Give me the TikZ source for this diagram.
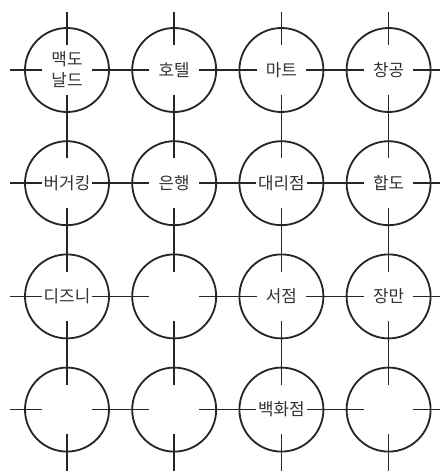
\documentclass[tikz,border=0pt]{standalone}
\usepackage{fontspec}
\newfontfamily\krfont{Noto Sans CJK KR}
\usetikzlibrary{positioning, calc}

\begin{document}
\begin{tikzpicture}[
    site/.style={circle, draw=black!85, line width=1.3pt,
                 minimum size=2.1cm, inner sep=0pt, outer sep=0pt},
    tag/.style={fill=white, inner sep=1.5pt, text=black!80, align=center,
                font=\krfont\fontsize{12}{15}\selectfont},
    link/.style={line width=1.2pt, black!85, shorten <=0.62cm, shorten >=0.62cm},
    stub/.style={line width=1.2pt, black!85, shorten >=0.62cm},
    node distance=0.73cm and 0.58cm
]
\useasboundingbox (0,0) rectangle (11,-11.775);

% sites
\node[site] (c11) at (1.675,-1.75) {};
\node[site, right=of c11] (c12) {};
\node[site, right=of c12] (c13) {};
\node[site, right=of c13] (c14) {};
\node[site, below=of c11] (c21) {};
\node[site, right=of c21] (c22) {};
\node[site, right=of c22] (c23) {};
\node[site, right=of c23] (c24) {};
\node[site, below=of c21] (c31) {};
\node[site, right=of c31] (c32) {};
\node[site, right=of c32] (c33) {};
\node[site, right=of c33] (c34) {};
\node[site, below=of c31] (c41) {};
\node[site, right=of c41] (c42) {};
\node[site, right=of c42] (c43) {};
\node[site, right=of c43] (c44) {};

% free ends of the grid lines
\coordinate[left=1.43cm of c11.center] (w1);
\coordinate[left=1.43cm of c21.center] (w2);
\coordinate[left=1.43cm of c31.center] (w3);
\coordinate[left=1.43cm of c41.center] (w4);
\coordinate[right=1.5cm of c14.center] (e1);
\coordinate[right=1.5cm of c24.center] (e2);
\coordinate[right=1.5cm of c34.center] (e3);
\coordinate[right=1.5cm of c44.center] (e4);
\coordinate[above=1.45cm of c11.center] (n1);
\coordinate[above=1.45cm of c12.center] (n2);
\coordinate[above=1.45cm of c13.center] (n3);
\coordinate[above=1.45cm of c14.center] (n4);
\coordinate[below=1.6cm of c41.center] (s1);
\coordinate[below=1.6cm of c42.center] (s2);
\coordinate[below=1.6cm of c43.center] (s3);
\coordinate[below=1.6cm of c44.center] (s4);

% rows
\draw[stub] (w1) -- (c11.center);
\draw[stub] (w2) -- (c21.center);
\draw[stub] (w3) -- (c31.center);
\draw[stub] (w4) -- (c41.center);
\draw[stub] (e1) -- (c14.center);
\draw[stub] (e2) -- (c24.center);
\draw[stub] (e3) -- (c34.center);
\draw[stub] (e4) -- (c44.center);
\draw[link] (c11.center) -- (c12.center);
\draw[link] (c12.center) -- (c13.center);
\draw[link] (c13.center) -- (c14.center);
\draw[link] (c21.center) -- (c22.center);
\draw[link] (c22.center) -- (c23.center);
\draw[link] (c23.center) -- (c24.center);
\draw[link] (c31.center) -- (c32.center);
\draw[link] (c32.center) -- (c33.center);
\draw[link] (c33.center) -- (c34.center);
\draw[link] (c41.center) -- (c42.center);
\draw[link] (c42.center) -- (c43.center);
\draw[link] (c43.center) -- (c44.center);

% columns
\draw[stub] (n1) -- (c11.center);
\draw[stub] (n2) -- (c12.center);
\draw[stub] (n3) -- (c13.center);
\draw[stub] (n4) -- (c14.center);
\draw[stub] (s1) -- (c41.center);
\draw[stub] (s2) -- (c42.center);
\draw[stub] (s3) -- (c43.center);
\draw[stub] (s4) -- (c44.center);
\draw[link] (c11.center) -- (c21.center);
\draw[link] (c21.center) -- (c31.center);
\draw[link] (c31.center) -- (c41.center);
\draw[link] (c12.center) -- (c22.center);
\draw[link] (c22.center) -- (c32.center);
\draw[link] (c32.center) -- (c42.center);
\draw[link] (c13.center) -- (c23.center);
\draw[link] (c23.center) -- (c33.center);
\draw[link] (c33.center) -- (c43.center);
\draw[link] (c14.center) -- (c24.center);
\draw[link] (c24.center) -- (c34.center);
\draw[link] (c34.center) -- (c44.center);

% names
\node[tag] (t11) at (c11) {맥도\\날드};
\node[tag] (t12) at (c12) {호텔};
\node[tag] (t13) at (c13) {마트};
\node[tag] (t14) at (c14) {창공};
\node[tag] (t21) at (c21) {버거킹};
\node[tag] (t22) at (c22) {은행};
\node[tag] (t23) at (c23) {대리점};
\node[tag] (t24) at (c24) {합도};
\node[tag] (t31) at (c31) {디즈니};
\node[tag] (t33) at (c33) {서점};
\node[tag] (t34) at (c34) {장만};
\node[tag] (t43) at (c43) {백화점};
\end{tikzpicture}
\end{document}
